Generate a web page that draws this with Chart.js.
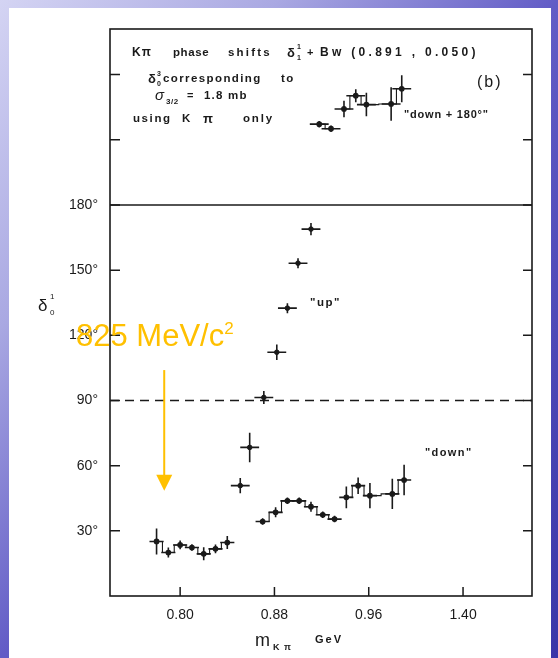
<!DOCTYPE html>
<html>
<head>
<meta charset="utf-8">
<script src="https://cdn.jsdelivr.net/npm/chart.js@4.4.0/dist/chart.umd.min.js"></script>
<style>
  html, body { margin: 0; padding: 0; width: 558px; height: 658px; overflow: hidden; }
  body { position: relative; background: linear-gradient(to bottom right, #d4d4f3 0%, #a9a8e2 25%, #625cc6 50%, #3a36a8 100%); }
  #page { position: absolute; left: 9px; top: 8px; width: 542px; height: 650px; background: #fff; }
  #wrap { position: absolute; left: 0; top: 0; width: 558px; height: 658px; }
</style>
</head>
<body>
<div id="page"></div>
<div id="wrap"><canvas id="chart" width="558" height="658"></canvas></div>
<script>
// K-pi phase shifts, "up" solution
const upMass  = [0.851, 0.859, 0.871, 0.882, 0.891, 0.900, 0.911];
const upPhase = [50.8, 68.4, 91.4, 112.2, 132.5, 153.2, 168.9];
const upErr   = [3.5, 6.8, 3.0, 3.6, 2.3, 2.3, 2.8];

// "down" solution
const downMass  = [0.780, 0.790, 0.800, 0.810, 0.820, 0.830, 0.840, 0.870, 0.881, 0.891,
                   0.901, 0.911, 0.921, 0.931, 0.941, 0.951, 0.961, 0.980, 0.990];
const downPhase = [25.1, 20.0, 23.5, 22.3, 19.4, 21.7, 24.6, 34.3, 38.5, 43.8,
                   43.8, 41.1, 37.4, 35.4, 45.4, 50.8, 46.2, 47.0, 53.4];
const downErr   = [6.0, 2.3, 2.0, 1.5, 3.0, 2.0, 3.0, 1.5, 2.3, 1.5,
                   1.5, 2.3, 1.5, 1.5, 5.0, 3.8, 5.8, 7.0, 7.0];
const downBreaks = [6, 13];

// "down + 180" solution
const shiftMass  = [0.918, 0.928, 0.939, 0.949, 0.958, 0.979, 0.988];
const shiftPhase = [217.2, 215.1, 224.2, 230.3, 226.2, 226.5, 233.5];
const shiftErr   = [1.5, 1.5, 3.8, 3.0, 5.4, 7.7, 6.2];
const shiftBreaks = [1];

const yTickValues = [30, 60, 90, 120, 150, 180, 210, 240];
const yTickLabels = ['30°', '60°', '90°', '120°', '150°', '180°', '', ''];
const xTickValues = [0.80, 0.88, 0.96, 1.04];
const xTickLabels = ['0.80', '0.88', '0.96', '1.40'];

const INK = '#1a1a1a';
const gap = breaks => ctx => breaks.includes(ctx.p0DataIndex) ? 'rgba(0,0,0,0)' : INK;
const toPoints = (xs, ys) => xs.map((m, i) => ({ x: m, y: ys[i] }));

const errorBars = {
  id: 'errorBars',
  afterDatasetsDraw(chart) {
    const { ctx, scales: { x, y } } = chart;
    ctx.save();
    ctx.strokeStyle = INK;
    ctx.lineWidth = 1.6;
    chart.data.datasets.forEach(ds => {
      ds.data.forEach((p, i) => {
        const px = x.getPixelForValue(p.x);
        const py = y.getPixelForValue(p.y);
        ctx.beginPath();
        ctx.moveTo(px, y.getPixelForValue(p.y - ds.errY[i]));
        ctx.lineTo(px, y.getPixelForValue(p.y + ds.errY[i]));
        ctx.moveTo(x.getPixelForValue(p.x - ds.errX), py);
        ctx.lineTo(x.getPixelForValue(p.x + ds.errX), py);
        ctx.stroke();
      });
    });
    ctx.restore();
  }
};

const frame = {
  id: 'frame',
  beforeDatasetsDraw(chart) {
    const { ctx, chartArea: a, scales: { x, y } } = chart;
    ctx.save();
    ctx.strokeStyle = INK;
    ctx.lineWidth = 1.6;
    ctx.strokeRect(a.left, a.top, a.right - a.left, a.bottom - a.top);

    // separator at 180 deg
    const y180 = y.getPixelForValue(180);
    ctx.lineWidth = 1.5;
    ctx.beginPath(); ctx.moveTo(a.left, y180); ctx.lineTo(a.right, y180); ctx.stroke();

    // dashed 90 deg line
    const y90 = y.getPixelForValue(90);
    ctx.lineWidth = 1.3;
    ctx.setLineDash([9, 6]);
    ctx.beginPath(); ctx.moveTo(a.left, y90); ctx.lineTo(a.right, y90); ctx.stroke();
    ctx.setLineDash([]);

    // inward tick marks
    ctx.lineWidth = 1.5;
    ctx.beginPath();
    yTickValues.forEach(v => {
      const py = y.getPixelForValue(v);
      ctx.moveTo(a.left, py); ctx.lineTo(a.left + 10, py);
      ctx.moveTo(a.right, py); ctx.lineTo(a.right - 9, py);
    });
    xTickValues.forEach(v => {
      const px = x.getPixelForValue(v);
      ctx.moveTo(px, a.bottom); ctx.lineTo(px, a.bottom - 9);
    });
    ctx.stroke();
    ctx.restore();
  }
};

function txt(ctx, s, x, y, size, opts = {}) {
  ctx.font = (opts.style || '') + ' ' + size + 'px "Liberation Sans", Arial, sans-serif';
  ctx.letterSpacing = (opts.spacing || 0) + 'px';
  ctx.fillStyle = opts.color || INK;
  ctx.textBaseline = opts.baseline || 'middle';
  ctx.fillText(s, x, y);
  return ctx.measureText(s).width;
}

const labels = {
  id: 'labels',
  afterDraw(chart) {
    const { ctx, scales: { x, y } } = chart;
    const B = { style: 'bold' };
    ctx.save();
    // panel legend text
    txt(ctx, 'K\u03c0', 132, 53, 12, { style: 'bold', spacing: 1 });
    txt(ctx, 'phase', 173, 53, 11.5, { style: 'bold', spacing: 0.6 });
    txt(ctx, 'shifts', 228, 53, 11.5, { style: 'bold', spacing: 2.2 });
    txt(ctx, '\u03b4', 287, 53, 13, B);
    txt(ctx, '1', 297, 47, 7, B);
    txt(ctx, '1', 297, 58, 7, B);
    txt(ctx, '+', 307, 53, 11, B);
    txt(ctx, 'Bw (0.891 , 0.050)', 320, 53, 12, { style: 'bold', spacing: 3.3 });

    txt(ctx, '\u03b4', 148, 79, 13, B);
    txt(ctx, '3', 157, 74, 7, B);
    txt(ctx, '0', 157, 84, 7, B);
    txt(ctx, 'corresponding', 163, 79, 11.5, { style: 'bold', spacing: 1.4 });
    txt(ctx, 'to', 281, 79, 11.5, { style: 'bold', spacing: 1.4 });

    txt(ctx, '\u03c3', 155, 96, 15, { style: 'italic' });
    txt(ctx, '3/2', 166, 102, 8, { style: 'bold', spacing: 0.5 });
    txt(ctx, '=', 187, 96, 11, B);
    txt(ctx, '1.8 mb', 204, 96, 11.5, { style: 'bold', spacing: 1.2 });

    txt(ctx, 'using', 133, 119, 11.5, { style: 'bold', spacing: 1.6 });
    txt(ctx, 'K', 182, 119, 11.5, B);
    txt(ctx, '\u03c0', 203, 119, 13, B);
    txt(ctx, 'only', 243, 119, 11.5, { style: 'bold', spacing: 1.8 });

    txt(ctx, '(b)', 477, 83, 16, { spacing: 2 });
    txt(ctx, '"down + 180\u00b0"', 404, 115, 11, { style: 'bold', spacing: 0.8 });
    txt(ctx, '"up"', 310, 303, 11.5, { style: 'bold', spacing: 1.5 });
    txt(ctx, '"down"', 425, 453, 11, { style: 'bold', spacing: 1.4 });

    // axis titles
    txt(ctx, '\u03b4', 38, 306, 17);
    txt(ctx, '1', 50, 297, 8);
    txt(ctx, '0', 50, 313, 8);
    txt(ctx, 'm', 255, 641, 18);
    txt(ctx, 'K \u03c0', 273, 648, 9, { style: 'bold', spacing: 1 });
    txt(ctx, 'GeV', 315, 640, 11, { style: 'bold', spacing: 2 });

    // yellow annotation
    const w = txt(ctx, '825 MeV/c', 76, 346, 31, { color: '#ffc000', baseline: 'alphabetic' });
    txt(ctx, '2', 76 + w, 334, 17, { color: '#ffc000', baseline: 'alphabetic' });

    const ax = x.getPixelForValue(0.7865);
    const yFrom = y.getPixelForValue(104);
    const yTip = y.getPixelForValue(48.5);
    ctx.strokeStyle = '#ffc000';
    ctx.fillStyle = '#ffc000';
    ctx.lineWidth = 2;
    ctx.beginPath(); ctx.moveTo(ax, yFrom); ctx.lineTo(ax, yTip - 14); ctx.stroke();
    ctx.beginPath();
    ctx.moveTo(ax - 8, yTip - 16); ctx.lineTo(ax + 8, yTip - 16); ctx.lineTo(ax, yTip);
    ctx.closePath(); ctx.fill();
    ctx.restore();
  }
};

new Chart(document.getElementById('chart'), {
  type: 'scatter',
  data: {
    datasets: [
      { label: 'up', data: toPoints(upMass, upPhase), errY: upErr, errX: 0.008,
        showLine: false, pointRadius: 2.3, backgroundColor: INK, borderColor: INK },
      { label: 'down', data: toPoints(downMass, downPhase), errY: downErr, errX: 0.006,
        showLine: true, stepped: 'middle', borderWidth: 1.1, borderColor: INK,
        segment: { borderColor: gap(downBreaks) },
        pointRadius: 2.3, backgroundColor: INK },
      { label: 'down + 180', data: toPoints(shiftMass, shiftPhase), errY: shiftErr, errX: 0.008,
        showLine: true, stepped: 'middle', borderWidth: 1.1, borderColor: INK,
        segment: { borderColor: gap(shiftBreaks) },
        pointRadius: 2.3, backgroundColor: INK }
    ]
  },
  options: {
    responsive: false,
    animation: false,
    layout: { padding: { left: 50, top: 29, right: 26, bottom: 0 } },
    plugins: { legend: { display: false }, tooltip: { enabled: false } },
    scales: {
      x: {
        type: 'linear', min: 0.7405, max: 1.0985,
        afterFit: s => { s.height = 62; },
        afterBuildTicks: s => { s.ticks = xTickValues.map(v => ({ value: v })); },
        grid: { display: false, drawTicks: false },
        border: { display: false },
        ticks: {
          autoSkip: false, maxRotation: 0, padding: 11, color: '#1a1a1a',
          font: { family: 'Liberation Sans', size: 14 },
          callback: (v, i) => xTickLabels[i]
        }
      },
      y: {
        min: 0, max: 261,
        afterFit: s => { s.width = 60; },
        afterBuildTicks: s => { s.ticks = yTickValues.map(v => ({ value: v })); },
        grid: { display: false, drawTicks: false },
        border: { display: false },
        ticks: {
          autoSkip: false, padding: 12, color: '#1a1a1a',
          font: { family: 'Liberation Sans', size: 14 },
          callback: (v, i) => yTickLabels[i]
        }
      }
    }
  },
  plugins: [frame, errorBars, labels]
});
</script>
</body>
</html>
